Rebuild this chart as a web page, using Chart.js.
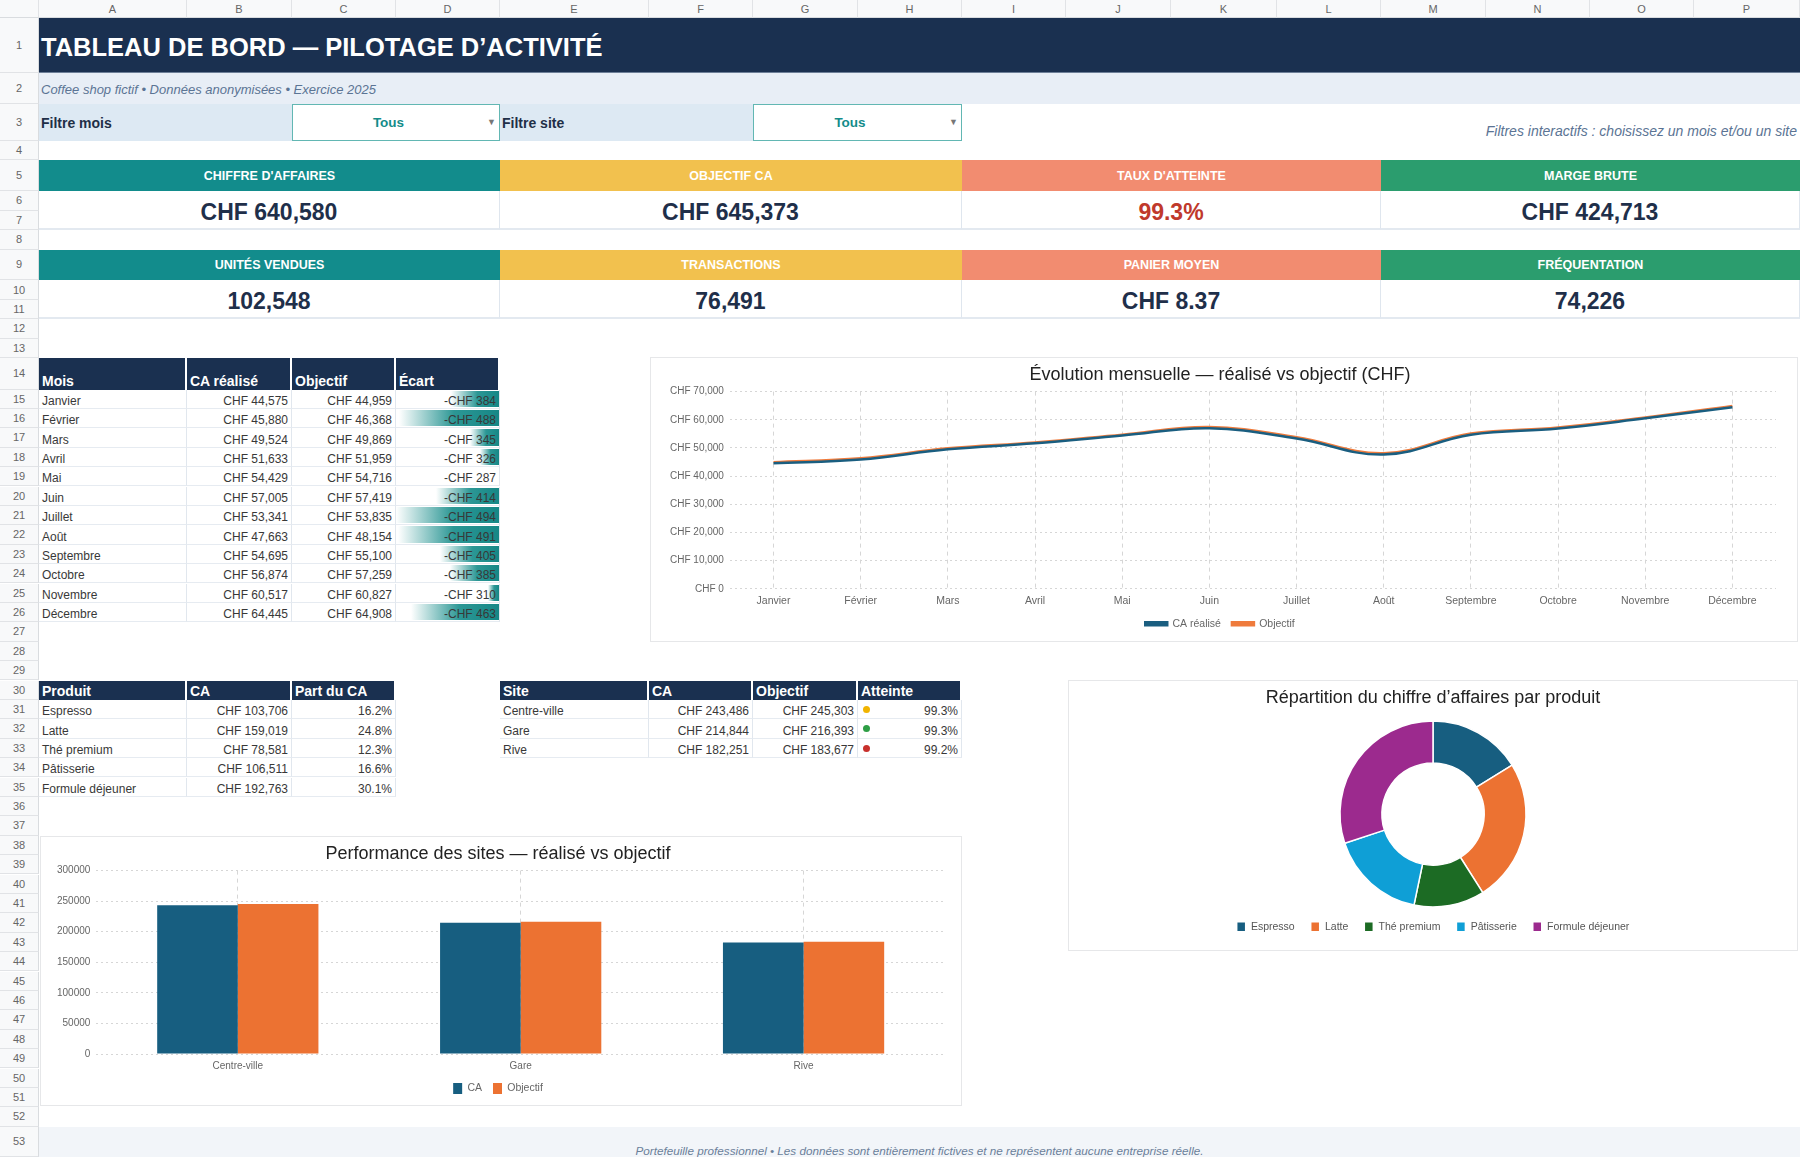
<!DOCTYPE html>
<html lang="fr">
<head>
<meta charset="utf-8">
<title>Tableau de bord — pilotage d’activité</title>
<script src="https://cdn.jsdelivr.net/npm/chart.js@4.4.1/dist/chart.umd.min.js"></script>
<style>
html, body { margin: 0; padding: 0; background: #fff; }
body { width: 1800px; height: 1157px; position: relative; overflow: hidden;
  font-family: 'Liberation Sans', Arial, Helvetica, sans-serif; }
#feuille { position: absolute; left: 0; top: 0; width: 1800px; height: 1157px; }
.c { position: absolute; box-sizing: border-box; display: flex; overflow: hidden; white-space: nowrap; }
.colhd { background: #f8f9fa; color: #666; font-size: 11px; align-items: center; justify-content: center;
  border-right: 1px solid #e1e3e6; border-bottom: 1px solid #d9dcdf; }
.rowhd { background: #f8f9fa; color: #666; font-size: 11px; align-items: center; justify-content: center;
  border-bottom: 1px solid #e1e3e6; border-right: 1px solid #d9dcdf; }
.titre { background: #1a3050; color: #fff; font-size: 25.5px; font-weight: bold; align-items: center; padding: 4px 0 0 2px;
  border-bottom: 1px solid #6d7f98; }
.sous { background: #e8eef6; color: #5b7494; font-size: 13px; font-style: italic; align-items: center; padding: 1px 0 0 2px; }
.filtre { background: #dde9f3; color: #1f2f47; font-size: 14px; font-weight: bold; align-items: center; padding-left: 2px; }
.liste { background: #fff; color: #138c8a; font-size: 13.5px; font-weight: bold; align-items: center; justify-content: center;
  border: 1.5px solid #62b7b3; padding-right: 15px; }
.liste .fl { position: absolute; right: 3px; top: 12px; color: #777; font-size: 9px; font-weight: normal; }
.note { color: #5b7494; font-size: 14px; font-style: italic; align-items: flex-end; justify-content: flex-end; padding: 0 3px 2px 0; }
.kpihd { color: #fff; font-size: 12.5px; font-weight: bold; align-items: center; justify-content: center; padding-top: 1px; }
.kpival { background: #fff; color: #1f2f4a; font-size: 23px; font-weight: bold; align-items: center; justify-content: center;
  padding-top: 5px; border-right: 1px solid #dfe6ee; border-bottom: 2px solid #e3e9f0; }
.hd { background: #1a3050; color: #fff; font-size: 14px; font-weight: bold; align-items: flex-end; padding: 0 3px 1px;
  border-right: 2px solid #fff; }
.td { color: #383838; font-size: 12px; line-height: 13px; align-items: flex-end; padding: 0 3px 0; border-bottom: 1px solid #e6ebf1;
  border-right: 1px solid #e1e7ee; }
.r { justify-content: flex-end; }
.barre { position: absolute; right: 0; top: 1px; bottom: 1px;
  background: linear-gradient(to left, #168786 0%, #2c9795 45%, rgba(255,255,255,0) 100%); }
.txt { position: relative; }
.pt { position: absolute; left: 5px; top: 6px; width: 7px; height: 7px; border-radius: 50%; }
.pied { background: #f2f5f9; color: #6b7f99; font-size: 11.7px; font-style: italic; align-items: flex-end; justify-content: center;
  padding-bottom: 0; }
.boite { position: absolute; box-sizing: border-box; background: #fff; border: 1px solid #e6e7e9; }
.boite > div { position: absolute; left: 0; top: 0; right: 0; bottom: 0; }
</style>
</head>
<body>
<div id="feuille"></div>

<div class="boite" style="left:650px; top:357px; width:1148px; height:285px;"><div><canvas id="courbe"></canvas></div></div>
<div class="boite" style="left:1068px; top:680px; width:730px; height:271px;"><div><canvas id="anneau"></canvas></div></div>
<div class="boite" style="left:40px; top:836px; width:922px; height:270px;"><div><canvas id="barres"></canvas></div></div>

<script>
// données
var mois = ['Janvier', 'Février', 'Mars', 'Avril', 'Mai', 'Juin', 'Juillet', 'Août', 'Septembre', 'Octobre', 'Novembre', 'Décembre'];
var caRealise = [44575, 45880, 49524, 51633, 54429, 57005, 53341, 47663, 54695, 56874, 60517, 64445];
var objectifMois = [44959, 46368, 49869, 51959, 54716, 57419, 53835, 48154, 55100, 57259, 60827, 64908];

var produits = ['Espresso', 'Latte', 'Thé premium', 'Pâtisserie', 'Formule déjeuner'];
var caProduits = [103706, 159019, 78581, 106511, 192763];
var partProduits = ['16.2%', '24.8%', '12.3%', '16.6%', '30.1%'];

var sites = ['Centre-ville', 'Gare', 'Rive'];
var caSites = [243486, 214844, 182251];
var objectifSites = [245303, 216393, 183677];
var atteinteSites = ['99.3%', '99.3%', '99.2%'];
var iconesSites = ['#f1b400', '#2e9e45', '#c8302c'];

var kpiTitres1 = ["CHIFFRE D'AFFAIRES", 'OBJECTIF CA', "TAUX D'ATTEINTE", 'MARGE BRUTE'];
var kpiValeurs1 = ['CHF 640,580', 'CHF 645,373', '99.3%', 'CHF 424,713'];
var kpiTitres2 = ['UNITÉS VENDUES', 'TRANSACTIONS', 'PANIER MOYEN', 'FRÉQUENTATION'];
var kpiValeurs2 = ['102,548', '76,491', 'CHF 8.37', '74,226'];
var kpiCouleurs = ['#128c8c', '#f2c14e', '#f28c70', '#2b9d6e'];

var colProduits = ['#175e80', '#ec7232', '#1c6b24', '#0f9fd6', '#9c2a8e'];

// grille de la feuille
var colX = [39, 187, 292, 396, 500, 649, 753, 858, 962, 1066, 1171, 1277, 1381, 1486, 1590, 1694, 1800];
var hauteurs = {1: 55, 2: 31, 3: 37, 4: 18.5, 5: 31.5, 6: 19.5, 7: 19.5, 8: 19.5, 9: 30.5, 10: 20, 11: 19,
  12: 19.5, 13: 19.5, 14: 31.5, 53: 30.5};
var rowTop = [];
var yy = 18;
for (var r = 1; r <= 54; r++) { rowTop[r] = yy; yy += hauteurs[r] || 19.4; }

var feuille = document.getElementById('feuille');
function pose(x, y, w, h, cls, html) {
  var d = document.createElement('div');
  d.className = 'c ' + cls;
  d.style.left = x + 'px'; d.style.top = y + 'px';
  d.style.width = w + 'px'; d.style.height = h + 'px';
  d.innerHTML = html;
  feuille.appendChild(d);
  return d;
}
function cell(c1, c2, r1, r2, cls, html) {
  return pose(colX[c1], rowTop[r1], colX[c2 + 1] - colX[c1], rowTop[r2 + 1] - rowTop[r1], cls, html);
}
function chf(n) { return 'CHF ' + n.toLocaleString('en-US'); }

// entêtes
pose(0, 0, 39, 18, 'colhd', '');
for (var i = 0; i < 16; i++) pose(colX[i], 0, colX[i + 1] - colX[i], 18, 'colhd', String.fromCharCode(65 + i));
for (var r = 1; r <= 53; r++) pose(0, rowTop[r], 39, rowTop[r + 1] - rowTop[r], 'rowhd', r);

cell(0, 15, 1, 1, 'titre', 'TABLEAU DE BORD — PILOTAGE D’ACTIVITÉ');
cell(0, 15, 2, 2, 'sous', 'Coffee shop fictif • Données anonymisées • Exercice 2025');
cell(0, 1, 3, 3, 'filtre', 'Filtre mois');
cell(2, 3, 3, 3, 'liste', 'Tous<span class="fl">▼</span>');
cell(4, 5, 3, 3, 'filtre', 'Filtre site');
cell(6, 7, 3, 3, 'liste', 'Tous<span class="fl">▼</span>');
cell(8, 15, 3, 3, 'note', 'Filtres interactifs : choisissez un mois et/ou un site');

// cartes KPI
for (var k = 0; k < 4; k++) {
  var h1 = cell(k * 4, k * 4 + 3, 5, 5, 'kpihd', kpiTitres1[k]);
  h1.style.background = kpiCouleurs[k];
  var v1 = cell(k * 4, k * 4 + 3, 6, 7, 'kpival', kpiValeurs1[k]);
  if (k == 2) v1.style.color = '#c0392b';
  var h2 = cell(k * 4, k * 4 + 3, 9, 9, 'kpihd', kpiTitres2[k]);
  h2.style.background = kpiCouleurs[k];
  cell(k * 4, k * 4 + 3, 10, 11, 'kpival', kpiValeurs2[k]);
}

// tableau mensuel
['Mois', 'CA réalisé', 'Objectif', 'Écart'].forEach(function(t, c) { cell(c, c, 14, 14, 'hd', t); });
var ecarts = caRealise.map(function(v, i) { return v - objectifMois[i]; });
var absE = ecarts.map(Math.abs);
var eMin = Math.min.apply(null, absE), eMax = Math.max.apply(null, absE);
for (var m = 0; m < mois.length; m++) {
  var rr = 15 + m;
  cell(0, 0, rr, rr, 'td', mois[m]);
  cell(1, 1, rr, rr, 'td r', chf(caRealise[m]));
  cell(2, 2, rr, rr, 'td r', chf(objectifMois[m]));
  var pct = (absE[m] - eMin) / (eMax - eMin) * 100;
  cell(3, 3, rr, rr, 'td r', '<div class="barre" style="width:' + pct + '%"></div><span class="txt">-' + chf(absE[m]) + '</span>');
}

// tableau produits
['Produit', 'CA', 'Part du CA'].forEach(function(t, c) { cell(c, c, 30, 30, 'hd', t); });
for (var p = 0; p < produits.length; p++) {
  cell(0, 0, 31 + p, 31 + p, 'td', produits[p]);
  cell(1, 1, 31 + p, 31 + p, 'td r', chf(caProduits[p]));
  cell(2, 2, 31 + p, 31 + p, 'td r', partProduits[p]);
}

// tableau sites
['Site', 'CA', 'Objectif', 'Atteinte'].forEach(function(t, c) { cell(4 + c, 4 + c, 30, 30, 'hd', t); });
for (var s = 0; s < sites.length; s++) {
  cell(4, 4, 31 + s, 31 + s, 'td', sites[s]);
  cell(5, 5, 31 + s, 31 + s, 'td r', chf(caSites[s]));
  cell(6, 6, 31 + s, 31 + s, 'td r', chf(objectifSites[s]));
  cell(7, 7, 31 + s, 31 + s, 'td r', '<span class="pt" style="background:' + iconesSites[s] + '"></span>' + atteinteSites[s]);
}

cell(0, 15, 53, 53, 'pied', 'Portefeuille professionnel • Les données sont entièrement fictives et ne représentent aucune entreprise réelle.');

// graphiques
Chart.defaults.font.family = "'Liberation Sans', Arial, Helvetica, sans-serif";
Chart.defaults.color = '#666';
Chart.defaults.animation = false;

var titre = function(t, pb) {
  return { display: true, text: t, color: '#222', font: { size: 18, weight: 'normal' }, padding: { top: 6, bottom: pb } };
};
// l'axe x garde le padding au-dessus des libellés seulement
var resserre = function(n) { return function(scale) { scale.height -= n; }; };

new Chart(document.getElementById('courbe'), {
  type: 'line',
  data: {
    labels: mois,
    datasets: [
      { label: 'CA réalisé', data: caRealise, borderColor: '#1a5e80', backgroundColor: '#1a5e80',
        borderWidth: 2.5, tension: 0.4, pointRadius: 0 },
      { label: 'Objectif', data: objectifMois, borderColor: '#ef7b3c', backgroundColor: '#ef7b3c',
        borderWidth: 2.5, tension: 0.4, pointRadius: 0 }
    ]
  },
  options: {
    responsive: true, maintainAspectRatio: false,
    layout: { padding: { left: 13, right: 21, bottom: 2 } },
    plugins: {
      title: titre('Évolution mensuelle — réalisé vs objectif (CHF)', 6),
      legend: { position: 'bottom', labels: { boxWidth: 22, boxHeight: 3, padding: 11, font: { size: 10.5 }, color: '#666' } },
      tooltip: { enabled: false }
    },
    scales: {
      x: { offset: true, afterFit: resserre(6),
        grid: { color: '#d6d6d6', drawTicks: false }, border: { display: false, dash: [4, 4] },
        ticks: { font: { size: 10.5 }, padding: 6, maxRotation: 0 } },
      y: { min: 0, max: 70000,
        grid: { color: '#d6d6d6', drawTicks: false }, border: { display: false, dash: [2, 3] },
        ticks: { stepSize: 10000, font: { size: 10 }, padding: 6,
          callback: function(v) { return 'CHF ' + v.toLocaleString('en-US'); } } }
    }
  }
});

new Chart(document.getElementById('anneau'), {
  type: 'doughnut',
  data: {
    labels: produits,
    datasets: [{ data: caProduits, backgroundColor: colProduits, borderColor: '#fff', borderWidth: 1.5, radius: 93 }]
  },
  options: {
    responsive: true, maintainAspectRatio: false, cutout: '55%',
    layout: { padding: { bottom: 8 } },
    plugins: {
      title: titre('Répartition du chiffre d’affaires par produit', 14),
      legend: { position: 'bottom', labels: { boxWidth: 9, boxHeight: 10, padding: 16, font: { size: 10.5 }, color: '#555' } },
      tooltip: { enabled: false }
    }
  }
});

new Chart(document.getElementById('barres'), {
  type: 'bar',
  data: {
    labels: sites,
    datasets: [
      { label: 'CA', data: caSites, backgroundColor: '#175e80', categoryPercentage: 0.57, barPercentage: 1 },
      { label: 'Objectif', data: objectifSites, backgroundColor: '#ec7232', categoryPercentage: 0.57, barPercentage: 1 }
    ]
  },
  options: {
    responsive: true, maintainAspectRatio: false,
    layout: { padding: { left: 10, right: 16, bottom: 1 } },
    plugins: {
      title: titre('Performance des sites — réalisé vs objectif', 6),
      legend: { position: 'bottom', labels: { boxWidth: 9, boxHeight: 11, padding: 11, font: { size: 10.5 }, color: '#666' } },
      tooltip: { enabled: false }
    },
    scales: {
      x: { afterFit: resserre(6),
        grid: { offset: false, color: '#d6d6d6', drawTicks: false }, border: { display: false, dash: [4, 4] },
        ticks: { font: { size: 10 }, padding: 6 } },
      y: { min: 0, max: 300000,
        grid: { color: '#d6d6d6', drawTicks: false }, border: { display: false, dash: [2, 3] },
        ticks: { stepSize: 50000, font: { size: 10 }, padding: 6, callback: function(v) { return String(v); } } }
    }
  }
});
</script>
</body>
</html>
